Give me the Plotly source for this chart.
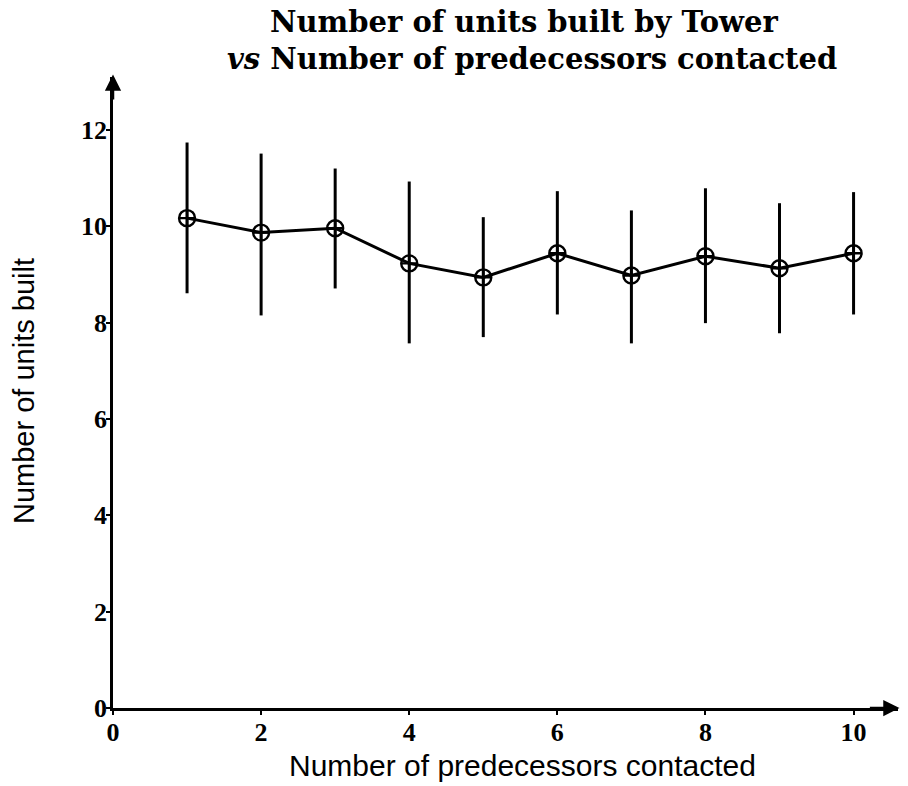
import plotly.graph_objects as go

predecessors = [1, 2, 3, 4, 5, 6, 7, 8, 9, 10]
units_mean = [10.17, 9.87, 9.96, 9.23, 8.94, 9.44, 8.98, 9.38, 9.13, 9.44]
err_upper = [11.74, 11.51, 11.20, 10.93, 10.19, 10.73, 10.33, 10.79, 10.48, 10.71]
err_lower = [8.61, 8.15, 8.71, 7.57, 7.70, 8.17, 7.57, 7.99, 7.78, 8.17]
x_ticks = [0, 2, 4, 6, 8, 10]
y_ticks = [0, 2, 4, 6, 8, 10, 12]

plus = [u - m for u, m in zip(err_upper, units_mean)]
minus = [m - l for m, l in zip(units_mean, err_lower)]

fig = go.Figure()
fig.add_trace(go.Scatter(
    x=predecessors, y=units_mean, mode="lines+markers",
    line=dict(color="black", width=3),
    marker=dict(symbol="circle-cross-open", size=16, color="black",
                line=dict(color="black", width=2.4)),
    error_y=dict(type="data", symmetric=False, array=plus, arrayminus=minus,
                 color="black", thickness=3, width=0),
    showlegend=False,
))

serif = "Liberation Serif, Times New Roman, serif"
title_serif = "DejaVu Serif, serif"
sans = "Liberation Sans, Arial, sans-serif"

fig.update_layout(
    width=908, height=786,
    margin=dict(l=113, r=10, t=77, b=78),
    plot_bgcolor="white", paper_bgcolor="white",
    xaxis=dict(range=[0, 10.6], tickvals=x_ticks, ticktext=[f"<b>{v}</b>" for v in x_ticks],
               showline=True, linecolor="black",
               linewidth=2.5, ticks="outside", ticklen=4, tickwidth=2, tickcolor="black",
               showgrid=False, zeroline=False, ticklabelstandoff=-5,
               tickfont=dict(family=serif, size=26, color="black")),
    yaxis=dict(range=[0, 13.1], tickvals=y_ticks, ticktext=[f"<b>{v}</b>" for v in y_ticks],
               showline=True, linecolor="black",
               linewidth=2.5, ticks="outside", ticklen=4, tickwidth=2, tickcolor="black",
               showgrid=False, zeroline=False, ticklabelstandoff=-6,
               tickfont=dict(family=serif, size=26, color="black")),
    annotations=[
        dict(text="<b>Number of units built by Tower</b>", xref="paper", yref="paper",
             x=(524 - 113) / 785, y=1.0, yshift=77 - 22, xanchor="center", yanchor="middle",
             showarrow=False, font=dict(family=title_serif, size=29, color="black")),
        dict(text="<b><i>vs</i> Number of predecessors contacted</b>", xref="paper", yref="paper",
             x=(532 - 113) / 785, y=1.0, yshift=77 - 59, xanchor="center", yanchor="middle",
             showarrow=False, font=dict(family=title_serif, size=29, color="black")),
        dict(text="Number of predecessors contacted", xref="paper", yref="paper",
             x=(522 - 113) / 785, y=0, yshift=-(765 - 708), xanchor="center", yanchor="middle",
             showarrow=False, font=dict(family=sans, size=30, color="black")),
        dict(text="Number of units built", xref="paper", yref="paper",
             x=0, xshift=-(113 - 24), y=(708 - 391) / 631, xanchor="center", yanchor="middle",
             textangle=-90, showarrow=False, font=dict(family=sans, size=29, color="black")),
        dict(x=10.62, y=0, ax=10.2, ay=0, xref="x", yref="y", axref="x", ayref="y",
             showarrow=True, arrowhead=2, arrowsize=1.3, arrowwidth=2.5, arrowcolor="black",
             text=""),
        dict(x=0, y=13.15, ax=0, ay=12.6, xref="x", yref="y", axref="x", ayref="y",
             showarrow=True, arrowhead=2, arrowsize=1.3, arrowwidth=2.5, arrowcolor="black",
             text=""),
    ],
)
fig.update_traces(cliponaxis=False)

fig.write_html("out.html")
